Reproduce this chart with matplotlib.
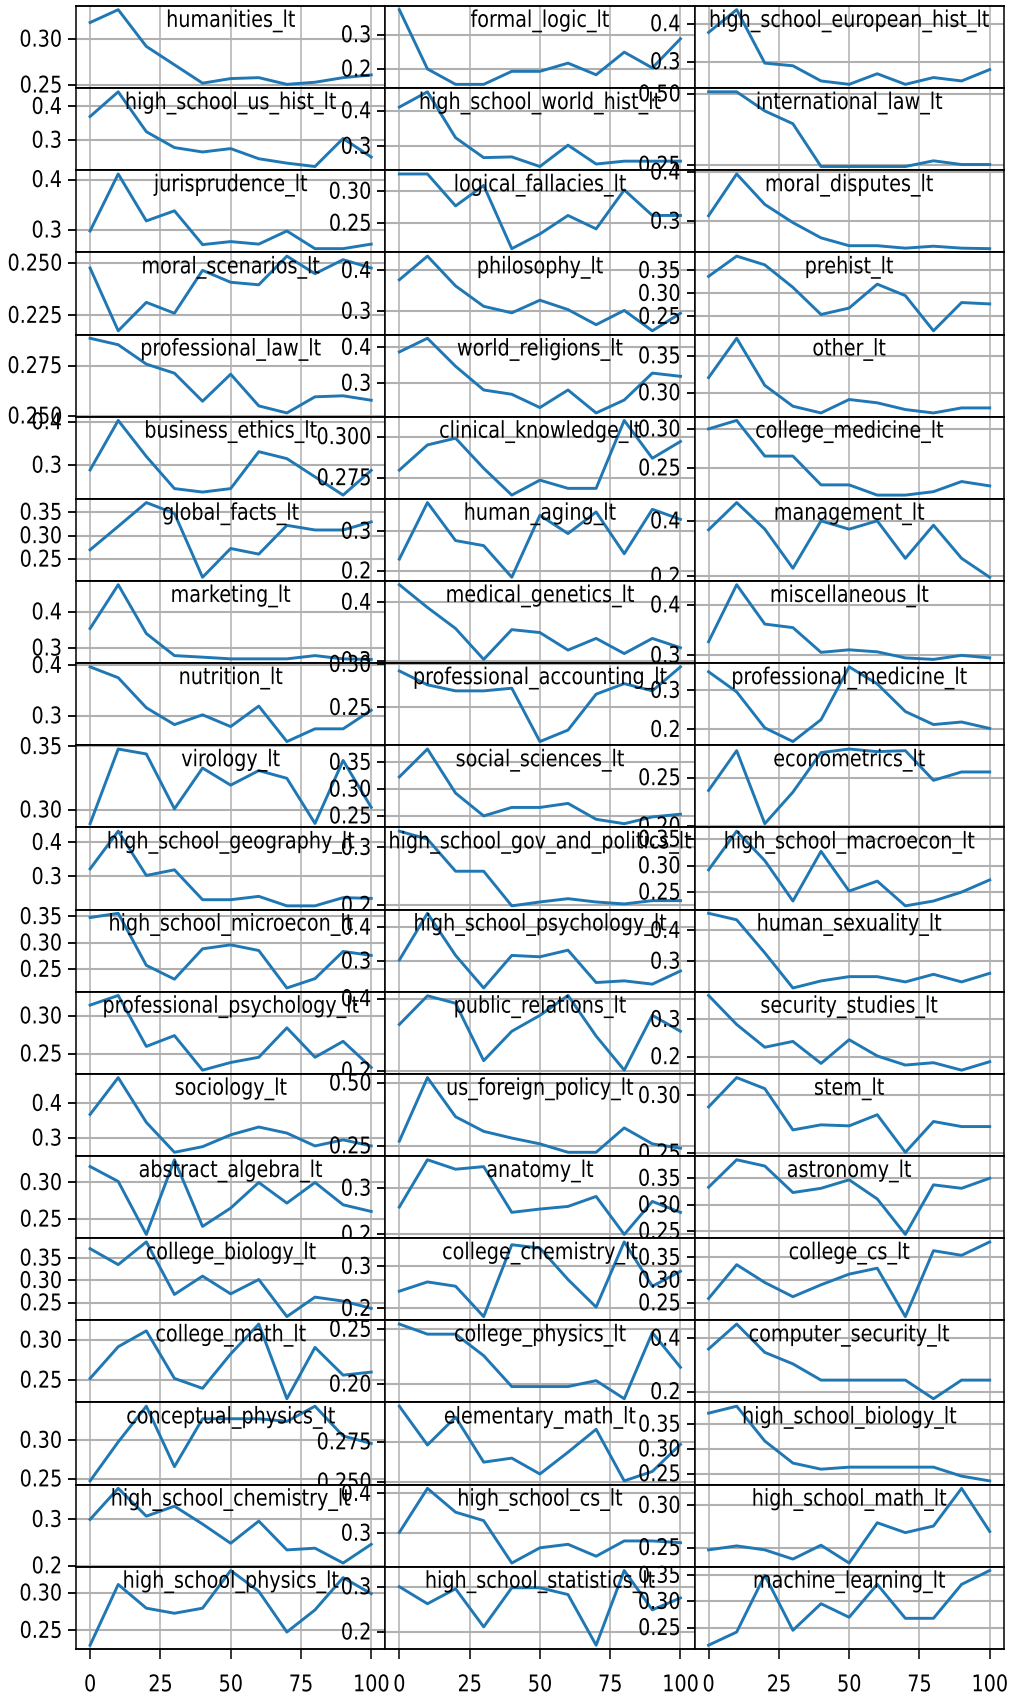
#!/usr/bin/env python

# Accuracy per subject (MMLU "_lt" splits) against step, one small panel each.

import matplotlib
matplotlib.use("Agg")
import matplotlib.pyplot as plt
from matplotlib.ticker import MaxNLocator
from matplotlib.patheffects import AbstractPathEffect
from matplotlib.transforms import Affine2D

steps = [0, 10, 20, 30, 40, 50, 60, 70, 80, 90, 100]

humanities_lt = [0.318, 0.332, 0.292, 0.272, 0.252, 0.257, 0.258, 0.2507, 0.253, 0.258, 0.261]
formal_logic_lt = [0.373, 0.200, 0.155, 0.155, 0.193, 0.193, 0.217, 0.183, 0.249, 0.203, 0.288]
high_school_european_hist_lt = [0.377, 0.437, 0.296, 0.289, 0.249, 0.240, 0.268, 0.240, 0.258, 0.249, 0.279]
high_school_us_hist_lt = [0.370, 0.443, 0.325, 0.278, 0.265, 0.275, 0.245, 0.232, 0.222, 0.305, 0.250]
high_school_world_hist_lt = [0.410, 0.453, 0.324, 0.268, 0.270, 0.243, 0.303, 0.250, 0.258, 0.258, 0.258]
international_law_lt = [0.507, 0.507, 0.440, 0.395, 0.245, 0.245, 0.245, 0.245, 0.265, 0.252, 0.252]
jurisprudence_lt = [0.298, 0.411, 0.318, 0.338, 0.271, 0.277, 0.272, 0.298, 0.263, 0.263, 0.272]
logical_fallacies_lt = [0.327, 0.327, 0.277, 0.309, 0.210, 0.233, 0.262, 0.241, 0.302, 0.262, 0.262]
moral_disputes_lt = [0.311, 0.396, 0.334, 0.297, 0.266, 0.250, 0.250, 0.245, 0.249, 0.245, 0.244]
moral_scenarios_lt = [0.2476, 0.2176, 0.2312, 0.2260, 0.2465, 0.2408, 0.2396, 0.2533, 0.2449, 0.2516, 0.2476]
philosophy_lt = [0.377, 0.435, 0.362, 0.312, 0.296, 0.327, 0.304, 0.267, 0.302, 0.252, 0.295]
prehist_lt = [0.337, 0.381, 0.362, 0.313, 0.254, 0.268, 0.320, 0.295, 0.2185, 0.280, 0.277]
professional_law_lt = [0.2885, 0.2853, 0.2757, 0.2712, 0.2573, 0.2707, 0.2550, 0.2515, 0.2595, 0.2600, 0.2578]
world_religions_lt = [0.387, 0.425, 0.347, 0.281, 0.269, 0.232, 0.281, 0.217, 0.253, 0.328, 0.319]
other_lt = [0.3205, 0.3737, 0.310, 0.2818, 0.2727, 0.2909, 0.2864, 0.2773, 0.2727, 0.2795, 0.2795]
business_ethics_lt = [0.289, 0.403, 0.320, 0.246, 0.238, 0.246, 0.331, 0.315, 0.273, 0.231, 0.288]
clinical_knowledge_lt = [0.2796, 0.2949, 0.299, 0.2807, 0.2644, 0.2735, 0.2685, 0.2685, 0.3098, 0.2868, 0.297]
college_medicine_lt = [0.300, 0.3109, 0.2652, 0.2652, 0.2283, 0.2283, 0.2152, 0.2152, 0.2196, 0.2326, 0.227]
global_facts_lt = [0.2697, 0.3197, 0.3704, 0.3473, 0.2113, 0.2726, 0.2606, 0.3219, 0.312, 0.312, 0.3292]
human_aging_lt = [0.2298, 0.372, 0.2763, 0.2636, 0.184, 0.340, 0.294, 0.3483, 0.2432, 0.355, 0.3297]
management_lt = [0.3676, 0.466, 0.370, 0.2288, 0.400, 0.370, 0.400, 0.2647, 0.3845, 0.2647, 0.1964]
marketing_lt = [0.354, 0.475, 0.340, 0.279, 0.2747, 0.270, 0.270, 0.270, 0.279, 0.270, 0.2685]
medical_genetics_lt = [0.430, 0.391, 0.355, 0.302, 0.353, 0.348, 0.318, 0.338, 0.312, 0.338, 0.322]
miscellaneous_lt = [0.327, 0.440, 0.362, 0.355, 0.306, 0.311, 0.307, 0.295, 0.292, 0.300, 0.295]
nutrition_lt = [0.397, 0.3755, 0.316, 0.2826, 0.302, 0.2787, 0.3193, 0.249, 0.2742, 0.2742, 0.311]
professional_accounting_lt = [0.2923, 0.2762, 0.2692, 0.2692, 0.2723, 0.2105, 0.2238, 0.2654, 0.2776, 0.2692, 0.297]
professional_medicine_lt = [0.3475, 0.296, 0.204, 0.169, 0.225, 0.360, 0.3165, 0.2458, 0.2125, 0.219, 0.2025]
virology_lt = [0.2891, 0.348, 0.3441, 0.3008, 0.333, 0.3195, 0.331, 0.3249, 0.2893, 0.339, 0.302]
social_sciences_lt = [0.3226, 0.3746, 0.2925, 0.250, 0.2658, 0.2658, 0.2733, 0.2437, 0.2355, 0.2481, 0.2532]
econometrics_lt = [0.2367, 0.278, 0.2022, 0.235, 0.276, 0.2797, 0.277, 0.278, 0.2472, 0.2559, 0.2559]
high_school_geography_lt = [0.3224, 0.4327, 0.303, 0.3195, 0.232, 0.232, 0.2418, 0.214, 0.214, 0.238, 0.2359]
high_school_gov_and_politics_lt = [0.328, 0.3143, 0.2588, 0.2588, 0.199, 0.2057, 0.2114, 0.2057, 0.2023, 0.208, 0.208]
high_school_macroecon_lt = [0.2919, 0.365, 0.3094, 0.2331, 0.327, 0.2519, 0.2707, 0.224, 0.2331, 0.250, 0.273]
high_school_microecon_lt = [0.348, 0.356, 0.2575, 0.2313, 0.2888, 0.2963, 0.2856, 0.2146, 0.2324, 0.2838, 0.2763]
high_school_psychology_lt = [0.303, 0.4406, 0.3166, 0.2206, 0.3166, 0.3125, 0.332, 0.2367, 0.2417, 0.232, 0.2708]
human_sexuality_lt = [0.4556, 0.4345, 0.3269, 0.2125, 0.2355, 0.2495, 0.2495, 0.2323, 0.2571, 0.2323, 0.2603]
professional_psychology_lt = [0.3143, 0.327, 0.2598, 0.2741, 0.2285, 0.2386, 0.2455, 0.2843, 0.2455, 0.2665, 0.2321]
public_relations_lt = [0.3283, 0.4076, 0.387, 0.2283, 0.3095, 0.3535, 0.4085, 0.2962, 0.202, 0.3535, 0.3095]
security_studies_lt = [0.3644, 0.2864, 0.2253, 0.2409, 0.1818, 0.2455, 0.2019, 0.1774, 0.1837, 0.1637, 0.1864]
sociology_lt = [0.368, 0.474, 0.3452, 0.259, 0.2752, 0.3093, 0.3318, 0.3143, 0.2773, 0.2948, 0.2773]
us_foreign_policy_lt = [0.2688, 0.521, 0.3657, 0.3077, 0.281, 0.258, 0.2245, 0.2245, 0.3213, 0.258, 0.2407]
stem_lt = [0.290, 0.3155, 0.3059, 0.270, 0.2744, 0.2735, 0.2832, 0.2505, 0.2773, 0.2729, 0.2729]
abstract_algebra_lt = [0.3218, 0.3014, 0.229, 0.331, 0.240, 0.265, 0.300, 0.2718, 0.300, 0.2695, 0.2604]
anatomy_lt = [0.259, 0.3615, 0.341, 0.3466, 0.2474, 0.2546, 0.2603, 0.2819, 0.1995, 0.2711, 0.2474]
astronomy_lt = [0.333, 0.3848, 0.373, 0.323, 0.331, 0.347, 0.311, 0.244, 0.3375, 0.331, 0.350]
college_biology_lt = [0.3709, 0.3353, 0.386, 0.2687, 0.3096, 0.270, 0.302, 0.2192, 0.2627, 0.2538, 0.2376]
college_chemistry_lt = [0.2409, 0.2629, 0.2527, 0.1805, 0.3513, 0.3433, 0.2686, 0.2031, 0.358, 0.2527, 0.2882]
college_cs_lt = [0.2595, 0.3339, 0.2947, 0.2635, 0.2897, 0.3131, 0.3262, 0.2197, 0.3647, 0.3545, 0.384]
college_math_lt = [0.2521, 0.2917, 0.3115, 0.2521, 0.2397, 0.2827, 0.320, 0.2267, 0.2908, 0.2562, 0.260]
college_physics_lt = [0.2547, 0.2455, 0.2455, 0.2259, 0.1977, 0.1977, 0.1977, 0.2031, 0.1866, 0.2469, 0.2153]
computer_security_lt = [0.3593, 0.4527, 0.3467, 0.3037, 0.243, 0.243, 0.243, 0.243, 0.1733, 0.243, 0.243]
conceptual_physics_lt = [0.2474, 0.2978, 0.344, 0.2658, 0.3278, 0.3278, 0.3278, 0.3244, 0.344, 0.3055, 0.2958]
elementary_math_lt = [0.2972, 0.273, 0.2904, 0.2623, 0.2648, 0.2549, 0.2685, 0.2828, 0.2506, 0.2565, 0.2734]
high_school_biology_lt = [0.372, 0.386, 0.3158, 0.2714, 0.2591, 0.2632, 0.2632, 0.2632, 0.2632, 0.2451, 0.2355]
high_school_chemistry_lt = [0.300, 0.3669, 0.307, 0.3285, 0.290, 0.2486, 0.2964, 0.2343, 0.238, 0.206, 0.2464]
high_school_cs_lt = [0.3017, 0.4128, 0.3528, 0.3315, 0.2246, 0.263, 0.2718, 0.2418, 0.2803, 0.2803, 0.2759]
high_school_math_lt = [0.2472, 0.2519, 0.2472, 0.2363, 0.2527, 0.2316, 0.2793, 0.2676, 0.2754, 0.320, 0.269]
high_school_physics_lt = [0.2301, 0.3113, 0.2796, 0.2728, 0.2796, 0.330, 0.3022, 0.2477, 0.2773, 0.3205, 0.299]
high_school_statistics_lt = [0.300, 0.2624, 0.2955, 0.2113, 0.2977, 0.2977, 0.2827, 0.1708, 0.3358, 0.2489, 0.2752]
machine_learning_lt = [0.2162, 0.2414, 0.350, 0.2447, 0.2955, 0.2696, 0.3325, 0.2676, 0.2676, 0.3325, 0.359]

names = [
    "humanities_lt", "formal_logic_lt", "high_school_european_hist_lt",
    "high_school_us_hist_lt", "high_school_world_hist_lt", "international_law_lt",
    "jurisprudence_lt", "logical_fallacies_lt", "moral_disputes_lt",
    "moral_scenarios_lt", "philosophy_lt", "prehist_lt",
    "professional_law_lt", "world_religions_lt", "other_lt",
    "business_ethics_lt", "clinical_knowledge_lt", "college_medicine_lt",
    "global_facts_lt", "human_aging_lt", "management_lt",
    "marketing_lt", "medical_genetics_lt", "miscellaneous_lt",
    "nutrition_lt", "professional_accounting_lt", "professional_medicine_lt",
    "virology_lt", "social_sciences_lt", "econometrics_lt",
    "high_school_geography_lt", "high_school_gov_and_politics_lt", "high_school_macroecon_lt",
    "high_school_microecon_lt", "high_school_psychology_lt", "human_sexuality_lt",
    "professional_psychology_lt", "public_relations_lt", "security_studies_lt",
    "sociology_lt", "us_foreign_policy_lt", "stem_lt",
    "abstract_algebra_lt", "anatomy_lt", "astronomy_lt",
    "college_biology_lt", "college_chemistry_lt", "college_cs_lt",
    "college_math_lt", "college_physics_lt", "computer_security_lt",
    "conceptual_physics_lt", "elementary_math_lt", "high_school_biology_lt",
    "high_school_chemistry_lt", "high_school_cs_lt", "high_school_math_lt",
    "high_school_physics_lt", "high_school_statistics_lt", "machine_learning_lt",
]
series = [globals()[n] for n in names]

xticks = [0, 25, 50, 75, 100]


# The reference looks vertically stretched: draw glyphs a bit taller than wide
class Tall(AbstractPathEffect):
    def __init__(self, sy=1.2):
        super().__init__()
        self.sy = sy

    def draw_path(self, renderer, gc, tpath, affine, rgbFace=None):
        renderer.draw_path(gc, tpath, Affine2D().scale(1, self.sy) + affine, rgbFace)


plt.rcParams['font.family'] = ['DejaVu Sans']
plt.rcParams['font.size'] = 13.8

fig, axes = plt.subplots(20, 3, sharex=True, figsize=(10.18, 16.98), dpi=100,
                         gridspec_kw=dict(left=0.0747, right=0.986, top=0.9965,
                                          bottom=0.0289, hspace=0, wspace=0))

for ax, name, vals in zip(axes.flat, names, series):
    ax.plot(steps, vals, color='#1f77b4', lw=2.1)
    ax.xaxis.grid(True, color='#b0b0b0', lw=1.1)
    ax.yaxis.grid(True, color='#b0b0b0', lw=1.5)
    ax.yaxis.set_major_locator(MaxNLocator(nbins=1, steps=[1, 2, 2.5, 5, 10]))
    ax.set_xticks(xticks)
    ax.tick_params(axis='y', length=5.8, width=1.3, pad=4.3)
    ax.tick_params(axis='x', length=7.2, width=1.1, pad=12.5)
    for side in ['top', 'bottom']:
        ax.spines[side].set_linewidth(1.35)
    for side in ['left', 'right']:
        ax.spines[side].set_linewidth(1.1)
    ax.text(0.5, 0.745, name, transform=ax.transAxes, ha='center',
            va='baseline', path_effects=[Tall()])

# tick labels exist only after a draw
fig.canvas.draw()
for ax in axes.flat:
    for lbl in ax.get_xticklabels() + ax.get_yticklabels():
        lbl.set_path_effects([Tall()])

fig.savefig('out.png', dpi=100)
